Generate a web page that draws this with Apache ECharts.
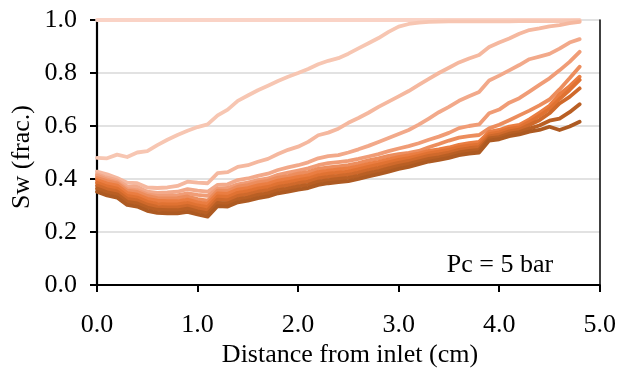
<!DOCTYPE html>
<html>
<head>
<meta charset="utf-8">
<script src="https://cdn.jsdelivr.net/npm/echarts@6/dist/echarts.min.js"></script>
<style>
html,body{margin:0;padding:0;background:#fff;}
#chart{width:619px;height:369px;}
</style>
</head>
<body>
<div id="chart"></div>
<script>
// Distance from inlet (cm)
var distance = [0.0,0.1,0.2,0.3,0.4,0.5,0.6,0.7,0.8,0.9,1.0,1.1,1.2,1.3,1.4,1.5,1.6,1.7,1.8,1.9,2.0,2.1,2.2,2.3,2.4,2.5,2.6,2.7,2.8,2.9,3.0,3.1,3.2,3.3,3.4,3.5,3.6,3.7,3.8,3.9,4.0,4.1,4.2,4.3,4.4,4.5,4.6,4.7,4.8];

var sw1 = [1.0,1.0,1.0,1.0,1.0,1.0,1.0,1.0,1.0,1.0,1.0,1.0,1.0,1.0,1.0,1.0,1.0,1.0,1.0,1.0,1.0,1.0,1.0,1.0,1.0,1.0,1.0,1.0,1.0,1.0,1.0,1.0,1.0,1.0,1.0,1.0,1.0,1.0,1.0,1.0,1.0,1.0,1.0,1.0,1.0,1.0,1.0,1.0,1.0];
var sw2 = [0.480,0.478,0.492,0.483,0.500,0.505,0.528,0.548,0.566,0.582,0.596,0.606,0.640,0.662,0.695,0.715,0.735,0.752,0.770,0.786,0.800,0.815,0.833,0.846,0.856,0.873,0.893,0.912,0.932,0.955,0.975,0.985,0.990,0.993,0.994,0.995,0.995,0.995,0.995,0.995,0.995,0.995,0.996,0.996,0.996,0.996,0.996,0.997,0.998];
var sw3 = [0.428,0.418,0.404,0.386,0.384,0.368,0.366,0.368,0.374,0.390,0.386,0.384,0.422,0.426,0.446,0.452,0.465,0.476,0.494,0.510,0.522,0.540,0.565,0.575,0.590,0.612,0.630,0.650,0.672,0.692,0.712,0.732,0.755,0.778,0.800,0.820,0.840,0.855,0.868,0.898,0.915,0.930,0.948,0.962,0.968,0.976,0.981,0.988,0.993];
var sw4 = [0.418,0.405,0.395,0.372,0.370,0.352,0.348,0.349,0.352,0.362,0.356,0.352,0.378,0.380,0.396,0.402,0.412,0.420,0.434,0.444,0.452,0.463,0.478,0.486,0.490,0.500,0.512,0.525,0.540,0.555,0.570,0.585,0.605,0.628,0.652,0.672,0.695,0.712,0.728,0.772,0.790,0.810,0.830,0.852,0.862,0.872,0.892,0.915,0.928];
var sw5 = [0.412,0.398,0.388,0.362,0.358,0.342,0.336,0.336,0.338,0.346,0.340,0.336,0.364,0.366,0.380,0.386,0.396,0.402,0.416,0.424,0.432,0.440,0.452,0.460,0.464,0.468,0.476,0.485,0.494,0.505,0.515,0.524,0.535,0.548,0.560,0.574,0.592,0.600,0.606,0.648,0.662,0.688,0.705,0.730,0.755,0.780,0.810,0.842,0.880];
var sw6 = [0.404,0.392,0.384,0.356,0.351,0.336,0.328,0.327,0.328,0.334,0.324,0.318,0.356,0.355,0.371,0.377,0.387,0.393,0.405,0.411,0.420,0.426,0.438,0.444,0.448,0.452,0.460,0.470,0.478,0.487,0.494,0.499,0.506,0.520,0.532,0.545,0.556,0.562,0.566,0.591,0.605,0.622,0.640,0.658,0.678,0.700,0.738,0.780,0.824];
var sw7 = [0.396,0.383,0.375,0.347,0.341,0.325,0.318,0.316,0.316,0.322,0.312,0.306,0.346,0.344,0.360,0.366,0.376,0.382,0.394,0.400,0.408,0.414,0.426,0.432,0.436,0.440,0.448,0.457,0.465,0.474,0.483,0.489,0.496,0.506,0.512,0.519,0.529,0.535,0.540,0.578,0.585,0.598,0.604,0.625,0.650,0.676,0.720,0.750,0.786];
var sw8 = [0.386,0.372,0.364,0.336,0.330,0.314,0.306,0.304,0.304,0.310,0.300,0.294,0.334,0.332,0.348,0.354,0.364,0.370,0.382,0.388,0.396,0.402,0.414,0.420,0.424,0.428,0.436,0.446,0.454,0.463,0.472,0.479,0.487,0.497,0.503,0.510,0.520,0.526,0.530,0.569,0.576,0.589,0.595,0.615,0.638,0.664,0.702,0.736,0.774];
var sw9 = [0.375,0.361,0.353,0.325,0.319,0.303,0.295,0.293,0.293,0.299,0.289,0.282,0.322,0.320,0.336,0.342,0.352,0.358,0.370,0.376,0.384,0.390,0.402,0.408,0.412,0.416,0.424,0.434,0.442,0.452,0.461,0.468,0.478,0.487,0.493,0.500,0.510,0.516,0.520,0.561,0.567,0.580,0.586,0.604,0.622,0.648,0.685,0.710,0.742];
var sw10 = [0.364,0.350,0.342,0.314,0.308,0.292,0.284,0.282,0.282,0.288,0.278,0.270,0.310,0.308,0.324,0.330,0.340,0.346,0.358,0.364,0.372,0.378,0.390,0.396,0.400,0.404,0.412,0.422,0.430,0.440,0.450,0.457,0.467,0.476,0.482,0.490,0.500,0.506,0.510,0.553,0.558,0.571,0.577,0.590,0.602,0.620,0.628,0.652,0.682];
var sw11 = [0.352,0.338,0.330,0.302,0.296,0.280,0.272,0.270,0.270,0.276,0.266,0.258,0.298,0.296,0.312,0.318,0.328,0.334,0.346,0.352,0.360,0.366,0.378,0.384,0.388,0.392,0.400,0.410,0.418,0.428,0.438,0.446,0.456,0.466,0.472,0.480,0.490,0.496,0.500,0.545,0.550,0.562,0.568,0.579,0.585,0.597,0.585,0.598,0.616];

var xTicks = [0.0, 1.0, 2.0, 3.0, 4.0, 5.0];
var yTicks = [0.0, 0.2, 0.4, 0.6, 0.8, 1.0];

var allSeries = [sw1, sw2, sw3, sw4, sw5, sw6, sw7, sw8, sw9, sw10, sw11];
var colors = ['#fad3c6','#f7c6b2','#f5b89f','#f2a98a','#f09c76','#ec8d5d','#ea7d41','#e07232','#cf692b','#b95f24','#ad5a22'];

var FONT = 'Liberation Serif';
var chart = echarts.init(document.getElementById('chart'), null, {renderer:'canvas'});

var series = allSeries.map(function(vals, i){
  return {
    type:'line',
    data: distance.map(function(x, j){ return [x, vals[j]]; }),
    showSymbol:false,
    symbol:'none',
    lineStyle:{color:colors[i], width:3.8, join:'round', cap:'round'},
    itemStyle:{color:colors[i]},
    z: 2 + i,
    animation:false
  };
});

chart.setOption({
  animation:false,
  backgroundColor:'#ffffff',
  grid:{left:97, right:18, top:20, bottom:84, containLabel:false},
  xAxis:{
    type:'value', min:xTicks[0], max:xTicks[xTicks.length-1], interval:1,
    axisLine:{show:true, onZero:false, lineStyle:{color:'#000', width:2}},
    axisTick:{show:true, inside:false, length:7, lineStyle:{color:'#000', width:2}},
    axisLabel:{margin:27, color:'#000', fontFamily:FONT, fontSize:26, formatter:function(v){return v.toFixed(1);}},
    splitLine:{show:false}
  },
  yAxis:[{
    type:'value', min:yTicks[0], max:yTicks[yTicks.length-1], interval:0.2,
    axisLine:{show:true, onZero:false, lineStyle:{color:'#000', width:2.2}},
    axisTick:{show:true, inside:false, length:7, lineStyle:{color:'#000', width:2}},
    axisLabel:{margin:20, color:'#000', fontFamily:FONT, fontSize:26, formatter:function(v){return v.toFixed(1);}},
    splitLine:{show:true, lineStyle:{color:'#d9d9d9', width:1.5}}
  },{
    type:'value', min:0, max:1, interval:0.2, position:'right',
    axisLine:{show:true, onZero:false, lineStyle:{color:'#000', width:1.5}},
    axisTick:{show:false}, axisLabel:{show:false}, splitLine:{show:false}
  }],
  graphic:[
    {type:'text', x:350, y:355, silent:true, style:{text:'Distance from inlet (cm)', fill:'#000', font:'26px "Liberation Serif"', textAlign:'center', textVerticalAlign:'middle'}},
    {type:'text', x:22, y:157, rotation:Math.PI/2, silent:true, style:{text:'Sw (frac.)', fill:'#000', font:'26px "Liberation Serif"', textAlign:'center', textVerticalAlign:'middle'}},
    {type:'text', x:500, y:265, silent:true, z:100, style:{text:'Pc = 5 bar', fill:'#000', font:'26px "Liberation Serif"', textAlign:'center', textVerticalAlign:'middle'}}
  ],
  series: series
});
</script>
</body>
</html>
